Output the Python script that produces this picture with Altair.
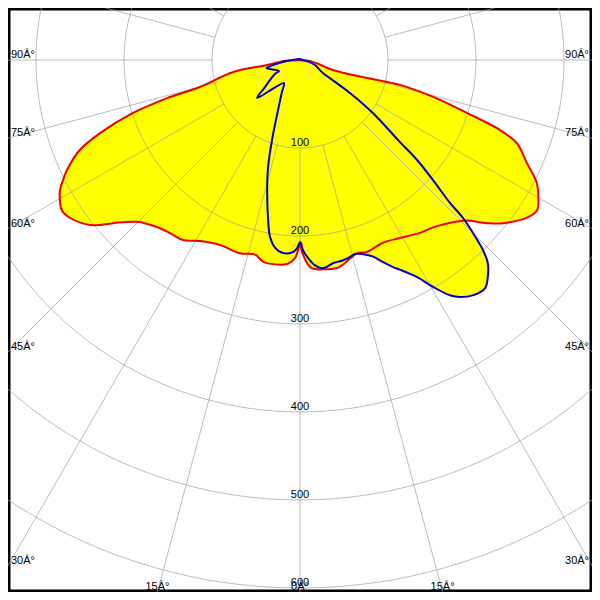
import altair as alt
import numpy as np
import pandas as pd

# ---- data (angle in degrees, negative = left; intensity) ----
RED_ANGLE = [-86.6, -81.4, -79.8, -74.9, -74.0, -72.4, -69.9, -67.8, -64.7, -63.1, -61.6, -59.7,
             -57.8, -55.5, -51.4, -48.9, -45.2, -40.6, -36.9, -33.0, -28.9, -23.4, -17.3, -13.0,
             -10.4, -9.0, -3.4, -1.4, 0.0, 0.6, 2.0, 3.3, 10.1, 11.6, 13.5, 16.5, 19.2, 24.4, 29.3,
             34.7, 38.5, 45.4, 48.9, 51.2, 55.2, 57.7, 59.9, 62.6, 65.6, 69.0, 70.7, 72.4, 74.5,
             76.0, 75.0, 73.0, 84.0]
RED_VALUE = [19, 38, 77, 118, 157, 199, 242, 270, 293, 302, 310, 316,
             320, 317, 301, 282, 261, 250, 246, 244, 235, 229, 230, 227,
             233, 234, 232, 225, 210, 218, 231, 237, 240, 238, 234, 229, 231, 228, 232,
             239, 243, 260, 282, 296, 314, 319, 313, 303, 283, 264, 241, 199, 157,
             117, 79, 39, 11]

BLUE_ANGLE = [-180.0, -85.6, -79.5, -76.4, -62.4, -60.8, -52.4, -48.5, -34.8, -29.4, -23.7, -19.3,
              -16.6, -14.2, -11.3, -9.6, -7.6, -5.3, -2.4, -0.9, 0.0, 0.3, 0.9, 2.3, 4.2, 6.0,
              7.4, 9.2, 11.8, 14.2, 15.8, 18.0, 20.3, 22.3, 24.2, 25.5, 28.3, 30.4, 32.5, 34.0,
              36.4, 39.0, 40.9, 42.8, 43.9, 45.0, 45.9, 46.4, 47.9, 49.5, 50.6, 54.0, 56.6, 60.5,
              63.4, 71.6, 82.0, 90.0]
BLUE_VALUE = [1.5, 15, 31, 39, 27, 33, 50, 65, 32, 42, 62, 96,
              127, 152, 185, 204, 215, 220, 219, 214, 207, 208, 216, 225, 234, 238,
              237, 234, 233, 231, 229, 232, 238, 248, 258, 264, 280, 299, 317, 325,
              332, 334, 326, 314, 300, 278, 258, 235, 204, 175, 147, 102, 68, 30,
              25, 18, 8, 3]

RINGS = [100, 200, 300, 400, 500, 600, 700]
RING_LABELS = ["100", "200", "300", "400", "500", "600"]
SPOKE_STEP = 15
ANGLE_TICKS = [-90, -75, -60, -45, -30, -15, 0, 15, 30, 45, 60, 75, 90]
DEG = "\u00c2\u00b0"

# ---- geometry of the plot ----
PX = 0.88                 # pixels per intensity unit
W = H = 584
CX, CY = 292, 52          # pole position inside the plot, pixels
XMIN, XMAX = -CX / PX, (W - CX) / PX
YMIN, YMAX = -(H - CY) / PX, CY / PX

xs = alt.Scale(domain=[XMIN, XMAX], nice=False, zero=False)
ys = alt.Scale(domain=[YMIN, YMAX], nice=False, zero=False)
X = alt.X("x:Q", scale=xs, axis=None)
Y = alt.Y("y:Q", scale=ys, axis=None)


def curve(name, ang, val):
    a = list(ang) + [ang[0]]
    v = list(val) + [val[0]]
    return pd.DataFrame({"series": name, "angle": a, "value": v, "i": range(len(a))})


curves = pd.concat([curve("red", RED_ANGLE, RED_VALUE), curve("blue", BLUE_ANGLE, BLUE_VALUE)])


def polar(ch):
    return ch.transform_calculate(
        x="datum.value * sin(datum.angle * PI / 180)",
        y="-datum.value * cos(datum.angle * PI / 180)",
    )


fills = polar(alt.Chart(curves).mark_line(fill="#ffff00", strokeOpacity=0, clip=True,
                                          interpolate="catmull-rom")).encode(
    x=X, y=Y, detail="series:N", order="i:Q")

# grid rings
ring_rows = []
for r in RINGS:
    for k, a in enumerate(np.arange(0, 361, 2)):
        ring_rows.append({"ring": r, "angle": float(a), "value": r, "i": k})
rings = polar(alt.Chart(pd.DataFrame(ring_rows)).mark_line(
    stroke="#a0a0a0", strokeWidth=1, opacity=0.7, clip=True)).encode(
    x=X, y=Y, detail="ring:N", order="i:Q")

# spokes from ring 100 outward
sp = pd.DataFrame({"angle": np.arange(-180, 180, SPOKE_STEP).astype(float)})
spokes = alt.Chart(sp).mark_rule(stroke="#a0a0a0", strokeWidth=1, opacity=0.7, clip=True).transform_calculate(
    x=f"{RINGS[0]} * sin(datum.angle * PI / 180)",
    y=f"-{RINGS[0]} * cos(datum.angle * PI / 180)",
    x2="900 * sin(datum.angle * PI / 180)",
    y2="-900 * cos(datum.angle * PI / 180)",
).encode(x=X, y=Y, x2="x2:Q", y2="y2:Q")

# ring labels
rl = pd.DataFrame({"label": RING_LABELS, "y": [-float(t) for t in RING_LABELS], "x": 0.0})
ring_text = alt.Chart(rl).mark_text(font="Liberation Sans", fontSize=11, color="black",
                                    align="center", baseline="alphabetic", dy=-2).encode(
    x=X, y=Y, text="label:N")

# angle labels where spokes meet the frame
left, right, bottom = [], [], []
for g in ANGLE_TICKS:
    s, c = np.sin(np.radians(abs(g))), np.cos(np.radians(abs(g)))
    t_side = XMAX / s if s > 1e-9 else np.inf
    t_bot = -YMIN / c if c > 1e-9 else np.inf
    lab = f"{abs(g)}{DEG}"
    if t_side <= t_bot:
        row = {"label": lab, "x": (XMIN if g < 0 else XMAX), "y": -t_side * c}
        (left if g < 0 else right).append(row)
    else:
        bottom.append({"label": lab, "x": np.sign(g) * t_bot * s, "y": YMIN})

tfont = dict(font="Liberation Sans", fontSize=11, color="black", baseline="alphabetic", dy=-2)
lt = alt.Chart(pd.DataFrame(left)).mark_text(align="left", dx=3, **tfont).encode(x=X, y=Y, text="label:N")
rt = alt.Chart(pd.DataFrame(right)).mark_text(align="right", dx=-3, **tfont).encode(x=X, y=Y, text="label:N")
bt = alt.Chart(pd.DataFrame(bottom)).mark_text(align="center", **tfont).encode(x=X, y=Y, text="label:N")

red_line = polar(alt.Chart(curves[curves.series == "red"]).mark_line(
    stroke="#ee0000", strokeWidth=2, strokeJoin="round", clip=True,
    interpolate="catmull-rom")).encode(x=X, y=Y, order="i:Q")
blue_line = polar(alt.Chart(curves[curves.series == "blue"]).mark_line(
    stroke="#0000cc", strokeWidth=2, strokeJoin="round", clip=True,
    interpolate="catmull-rom")).encode(x=X, y=Y, order="i:Q")

chart = alt.layer(fills, rings, spokes, ring_text, lt, rt, bt, red_line, blue_line).properties(
    width=W, height=H, padding=0, background="white"
).configure_view(stroke="black", strokeWidth=5)

chart.save("out.html", embed_options={"renderer": "svg", "actions": False})
